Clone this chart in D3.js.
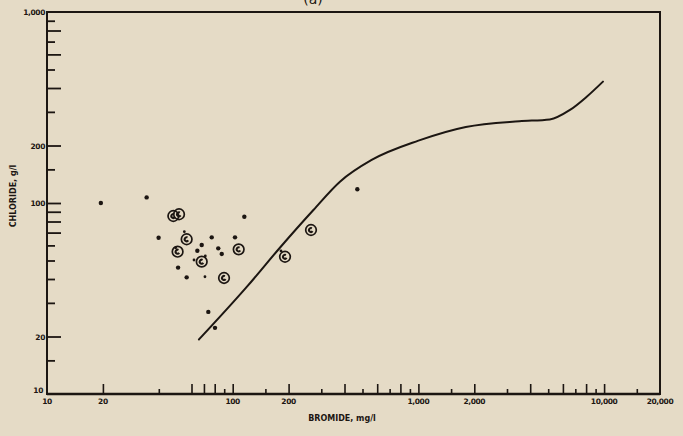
<!DOCTYPE html>
<html>
<head>
<meta charset="utf-8">
<script src="https://cdn.jsdelivr.net/npm/d3@7"></script>
<style>
  body { margin: 0; background: #e5dbc6; }
  svg { display: block; }
  text { font-family: "DejaVu Sans", sans-serif; font-weight: bold; fill: #1c1612; }
</style>
</head>
<body>
<div class="canvas"></div>
<script>

var W = 683, H = 436;
var INK = "#1c1612";

// plain dots: bromide (mg/l), chloride (g/l)
var dotBromide  = [19.5, 34.4, 115.5, 39.9, 77.1, 102.9, 68.1, 64.5, 83.6, 87.3, 50.8, 56.5, 73.9, 80.3, 469];
var dotChloride = [100, 107, 84.8, 65.8, 66.1, 66.1, 60.3, 56.2, 57.9, 54.1, 45.9, 40.8, 26.9, 22.2, 118];

// small dots (tails next to the circles, and one tiny dot)
var smallBromide  = [54.9, 61.9, 71.2, 49.3, 182, 70.9];
var smallChloride = [70.8, 50.3, 52.8, 58.3, 56.1, 41.1];

// circled samples
var ringBromide  = [47.9, 51.4, 56.5, 50.5, 107.7, 68.1, 89.8, 264, 191.3];
var ringChloride = [85.5, 87.3, 64.6, 55.6, 57.2, 49.3, 40.5, 72.2, 52.3];

// evaporation curve
var curveBromide  = [65.8, 120, 180, 272, 378, 560, 1000, 1800, 3500, 5100, 6550, 8060, 9860];
var curveChloride = [19.3, 36.7, 58.5, 91.9, 129.3, 168, 212, 250, 268, 274, 307, 360, 432];

// axis ticks
var xLabels = [10, 20, 100, 200, 1000, 2000, 10000, 20000];
var xLong = [20, 60, 70, 80, 100, 200, 400, 600, 800, 1000, 2000, 4000, 6000, 8000, 10000];
var xShort = [40, 90, 150, 300, 500, 700, 900, 1500, 3000, 5000, 7000, 9000, 15000];
var yLabels = [10, 20, 100, 200, 1000];
var yLong = [800, 600, 400, 200, 100, 90, 80, 70, 20];
var yShort = [900, 700, 500, 300, 150, 60, 50, 40, 30, 15];

var fmt = function(v) { return v >= 1000 ? d3.format(",")(v) : String(v); };

var svg = d3.select(".canvas").append("svg")
  .attr("width", W).attr("height", H);

svg.append("rect").attr("width", W).attr("height", H).attr("fill", "#e5dbc6");

var x = d3.scaleLog().domain([10, 20000]).range([47, 660]);
var y = d3.scaleLog().domain([10, 1000]).range([394, 12]);

// panel tag, cut off at the top as in the scan
svg.append("text").attr("x", 313).attr("y", 4)
  .attr("text-anchor", "middle").style("font-size", "14px").style("font-weight", "normal")
  .text("(a)");

// frame
svg.append("rect")
  .attr("x", x(10)).attr("y", y(1000))
  .attr("width", x(20000) - x(10)).attr("height", y(10) - y(1000))
  .attr("fill", "none").attr("stroke", INK).attr("stroke-width", 2);
svg.append("line")
  .attr("x1", x(10)).attr("x2", x(20000)).attr("y1", y(10)).attr("y2", y(10))
  .attr("stroke", INK).attr("stroke-width", 2.6);

// x ticks (pointing inward)
var gx = svg.append("g").attr("transform", "translate(0," + y(10) + ")");
gx.append("g").call(d3.axisBottom(x).tickValues(xLong).tickSizeInner(-10).tickSizeOuter(0).tickFormat(""));
gx.append("g").call(d3.axisBottom(x).tickValues(xShort).tickSizeInner(-5).tickSizeOuter(0).tickFormat(""));
gx.selectAll(".domain").remove();
gx.selectAll("line").attr("stroke", INK).attr("stroke-width", 1.6);

svg.append("g").selectAll("text").data(xLabels).join("text")
  .attr("x", function(d) { return x(d); })
  .attr("y", 404)
  .attr("text-anchor", "middle")
  .style("font-size", "7.5px")
  .style("letter-spacing", "-0.4px")
  .text(fmt);

// y ticks
var gy = svg.append("g").attr("transform", "translate(" + x(10) + ",0)");
gy.append("g").call(d3.axisLeft(y).tickValues(yLong).tickSizeInner(-14).tickSizeOuter(0).tickFormat(""));
gy.append("g").call(d3.axisLeft(y).tickValues(yShort).tickSizeInner(-8).tickSizeOuter(0).tickFormat(""));
gy.selectAll(".domain").remove();
gy.selectAll("line").attr("stroke", INK).attr("stroke-width", 1.8);

svg.append("g").selectAll("text").data(yLabels).join("text")
  .attr("x", function(d) { return d == 10 ? 43 : 45; })
  .attr("y", function(d) { return (d == 10 ? y(d) - 4 : y(d)) + 3; })
  .attr("text-anchor", "end")
  .style("font-size", "7.5px")
  .style("letter-spacing", "-0.4px")
  .text(fmt);

// axis titles
svg.append("text").attr("x", 342).attr("y", 421)
  .attr("text-anchor", "middle").style("font-size", "8px")
  .text("BROMIDE, mg/l");

svg.append("text")
  .attr("transform", "translate(16,196)rotate(-90)")
  .attr("text-anchor", "middle").style("font-size", "8px")
  .text("CHLORIDE, g/l");

// curve
var line = d3.line()
  .x(function(d) { return x(d[0]); })
  .y(function(d) { return y(d[1]); })
  .curve(d3.curveMonotoneX);

svg.append("path")
  .datum(d3.zip(curveBromide, curveChloride))
  .attr("d", line)
  .attr("fill", "none").attr("stroke", INK).attr("stroke-width", 2)
  .attr("stroke-linecap", "round");

// dots
svg.append("g").selectAll("circle").data(d3.zip(dotBromide, dotChloride)).join("circle")
  .attr("cx", function(d) { return x(d[0]); })
  .attr("cy", function(d) { return y(d[1]); })
  .attr("r", 2.2).attr("fill", INK);

svg.append("g").selectAll("circle").data(d3.zip(smallBromide, smallChloride)).join("circle")
  .attr("cx", function(d) { return x(d[0]); })
  .attr("cy", function(d) { return y(d[1]); })
  .attr("r", 1.4).attr("fill", INK);

// circled samples: ring with a "C" inside
var rings = svg.append("g").selectAll("g").data(d3.zip(ringBromide, ringChloride)).join("g")
  .attr("transform", function(d) { return "translate(" + x(d[0]) + "," + y(d[1]) + ")"; });

rings.append("circle").attr("r", 5.3).attr("fill", "none")
  .attr("stroke", INK).attr("stroke-width", 1.7);

var inner = d3.arc().innerRadius(1).outerRadius(3)
  .startAngle(Math.PI * 0.7).endAngle(Math.PI * 2.15);
rings.append("path").attr("d", inner()).attr("fill", INK);

</script>
</body>
</html>
